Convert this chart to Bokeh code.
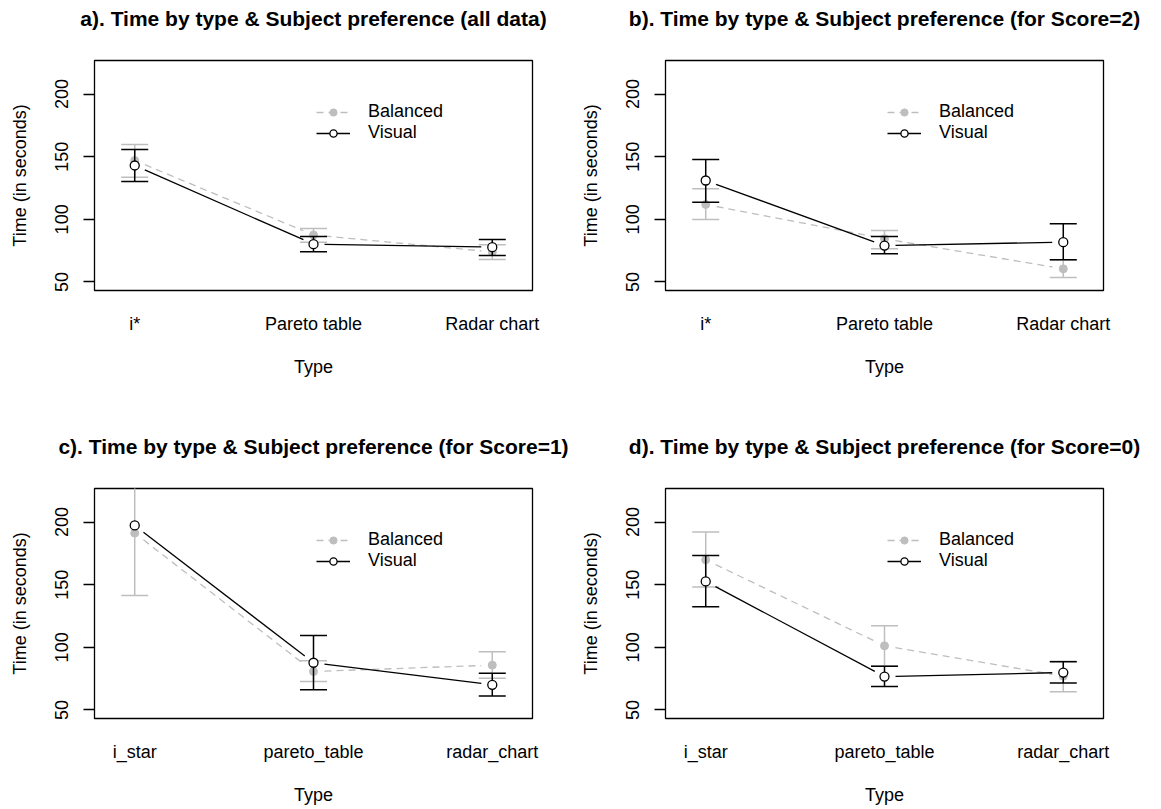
import math
from bokeh.plotting import figure
from bokeh.layouts import gridplot
from bokeh.models import FixedTicker, Legend, LegendItem, Range1d, Title
from bokeh.embed import file_html
from bokeh.resources import INLINE

# ---------------- data ----------------
cats_top = ["i*", "Pareto table", "Radar chart"]
cats_bottom = ["i_star", "pareto_table", "radar_chart"]

title_a = "a). Time by type & Subject preference (all data)"
title_b = "b). Time by type & Subject preference (for Score=2)"
title_c = "c). Time by type & Subject preference (for Score=1)"
title_d = "d). Time by type & Subject preference (for Score=0)"

# panel a (all data)
bal_a_mean = [147.0, 87.5, 74.0]
bal_a_lo = [133.6, 81.8, 67.9]
bal_a_hi = [159.8, 92.7, 79.7]
vis_a_mean = [143.0, 80.2, 77.8]
vis_a_lo = [130.2, 74.1, 71.1]
vis_a_hi = [155.8, 86.3, 83.9]

# panel b (Score=2)
bal_b_mean = [111.9, 84.5, 60.5]
bal_b_lo = [99.9, 76.5, 53.6]
bal_b_hi = [124.4, 91.1, 67.5]
vis_b_mean = [131.0, 79.1, 81.8]
vis_b_lo = [113.7, 72.5, 67.7]
vis_b_hi = [147.8, 86.3, 96.4]

# panel c (Score=1)
bal_c_mean = [191.2, 80.7, 85.8]
bal_c_lo = [141.4, 72.7, 75.4]
bal_c_hi = [241.0, 89.3, 96.4]
vis_c_mean = [197.3, 87.7, 70.1]
vis_c_lo = [float("nan"), 66.1, 61.1]
vis_c_hi = [float("nan"), 109.5, 79.4]

# panel d (Score=0)
bal_d_mean = [169.9, 101.2, 77.0]
bal_d_lo = [148.1, 85.2, 64.5]
bal_d_hi = [192.0, 117.2, 89.0]
vis_d_mean = [152.6, 76.7, 79.9]
vis_d_lo = [132.4, 68.7, 71.5]
vis_d_hi = [173.3, 85.0, 88.5]

y_ticks = [50, 100, 150, 200]
legend_labels = ["Balanced", "Visual"]

# ---------------- style ----------------
FONT = "Liberation Sans"
GRAY = "#bebebe"
XR = (0.775, 3.225)
YR = (43.2, 226.8)
FW, FH = 438, 230
GAP = 11


def gapped(xs, ys, fw, fh):
    sx = fw / (XR[1] - XR[0])
    sy = fh / (YR[1] - YR[0])
    x0, y0, x1, y1 = [], [], [], []
    for i in range(len(xs) - 1):
        dxp = (xs[i + 1] - xs[i]) * sx
        dyp = (ys[i + 1] - ys[i]) * sy
        L = math.hypot(dxp, dyp)
        if L <= 2 * GAP:
            continue
        f = GAP / L
        x0.append(xs[i] + (xs[i + 1] - xs[i]) * f)
        y0.append(ys[i] + (ys[i + 1] - ys[i]) * f)
        x1.append(xs[i + 1] - (xs[i + 1] - xs[i]) * f)
        y1.append(ys[i + 1] - (ys[i + 1] - ys[i]) * f)
    return x0, y0, x1, y1


def errbars(p, xs, lo, hi, color):
    keep = [i for i in range(len(xs)) if not (math.isnan(lo[i]) or math.isnan(hi[i]))]
    xk = [xs[i] for i in keep]
    lk = [lo[i] for i in keep]
    hk = [hi[i] for i in keep]
    p.segment(x0=xk, y0=lk, x1=xk, y1=hk, line_color=color, line_width=1.5)
    p.scatter(x=xk, y=lk, marker="dash", size=27, line_color=color, line_width=1.5)
    p.scatter(x=xk, y=hk, marker="dash", size=27, line_color=color, line_width=1.5)


def panel(title, cats, bm, blo, bhi, vm, vlo, vhi, bl, br, bt, bb):
    p = figure(frame_width=FW, frame_height=FH, x_range=Range1d(*XR), y_range=Range1d(*YR),
               output_backend="svg", toolbar_location=None,
               min_border_left=bl, min_border_right=br, min_border_top=bt, min_border_bottom=bb)
    # spacer between frame and title (first "above" item sits next to the frame)
    p.add_layout(Title(text=" ", text_font_size="1px", standoff=27), "above")
    p.add_layout(Title(text=title, text_font=FONT, text_font_size="21px",
                       text_font_style="bold", text_color="black", align="center",
                       standoff=2), "above")
    p.xgrid.visible = False
    p.ygrid.visible = False
    p.outline_line_color = "black"
    p.outline_line_width = 1.3
    p.outline_line_alpha = 1.0

    xs = list(range(1, len(cats) + 1))

    # Balanced
    errbars(p, xs, blo, bhi, GRAY)
    bx0, by0, bx1, by1 = gapped(xs, bm, FW, FH)
    bline = p.segment(x0=bx0, y0=by0, x1=bx1, y1=by1, line_color=GRAY,
                      line_width=1.3, line_dash="7 5")
    bpts = p.scatter(x=xs, y=bm, marker="circle", size=8, fill_color=GRAY, line_color=GRAY)

    # Visual
    errbars(p, xs, vlo, vhi, "black")
    vx0, vy0, vx1, vy1 = gapped(xs, vm, FW, FH)
    vline = p.segment(x0=vx0, y0=vy0, x1=vx1, y1=vy1, line_color="black", line_width=1.3)
    vpts = p.scatter(x=xs, y=vm, marker="circle", size=9, fill_color="white",
                     line_color="black", line_width=1.3)

    legend = Legend(items=[LegendItem(label=legend_labels[0], renderers=[bline, bpts]),
                           LegendItem(label=legend_labels[1], renderers=[vline, vpts])],
                    location=(222, 147), orientation="vertical",
                    border_line_color=None, background_fill_alpha=0,
                    padding=0, margin=0, spacing=0, glyph_width=34, glyph_height=18,
                    label_height=18, label_standoff=18,
                    label_text_font=FONT, label_text_font_size="18px",
                    label_text_color="black")
    p.add_layout(legend)

    # x axis
    xa = p.xaxis[0]
    xa.ticker = FixedTicker(ticks=xs)
    xa.major_label_overrides = {x: c for x, c in zip(xs, cats)}
    xa.axis_line_color = None
    xa.major_tick_line_color = None
    xa.minor_tick_line_color = None
    xa.major_tick_out = 0
    xa.major_tick_in = 0
    xa.major_label_standoff = 23
    xa.major_label_text_font = FONT
    xa.major_label_text_font_size = "18px"
    xa.major_label_text_color = "black"
    xa.axis_label = "Type"
    xa.axis_label_standoff = 20
    xa.axis_label_text_font = FONT
    xa.axis_label_text_font_size = "18px"
    xa.axis_label_text_font_style = "normal"
    xa.axis_label_text_color = "black"

    # y axis
    ya = p.yaxis[0]
    ya.ticker = FixedTicker(ticks=y_ticks)
    ya.axis_line_color = None
    ya.minor_tick_line_color = None
    ya.major_tick_out = 11
    ya.major_tick_in = 0
    ya.major_tick_line_width = 1.3
    ya.major_tick_line_color = "black"
    ya.major_label_orientation = "parallel"
    ya.major_label_standoff = 15
    ya.major_label_text_font = FONT
    ya.major_label_text_font_size = "18px"
    ya.major_label_text_color = "black"
    ya.axis_label = "Time (in seconds)"
    ya.axis_label_standoff = 23
    ya.axis_label_text_font = FONT
    ya.axis_label_text_font_size = "18px"
    ya.axis_label_text_font_style = "normal"
    ya.axis_label_text_color = "black"
    return p


pa = panel(title_a, cats_top, bal_a_mean, bal_a_lo, bal_a_hi, vis_a_mean, vis_a_lo, vis_a_hi,
           94, 42, 60, 138)
pb = panel(title_b, cats_top, bal_b_mean, bal_b_lo, bal_b_hi, vis_b_mean, vis_b_lo, vis_b_hi,
           91, 50, 60, 138)
pc = panel(title_c, cats_bottom, bal_c_mean, bal_c_lo, bal_c_hi, vis_c_mean, vis_c_lo, vis_c_hi,
           94, 42, 60, 88)
pd = panel(title_d, cats_bottom, bal_d_mean, bal_d_lo, bal_d_hi, vis_d_mean, vis_d_lo, vis_d_hi,
           91, 50, 60, 88)

grid = gridplot([[pa, pb], [pc, pd]], toolbar_location=None)

open("out.html", "w").write(file_html(grid, INLINE))
